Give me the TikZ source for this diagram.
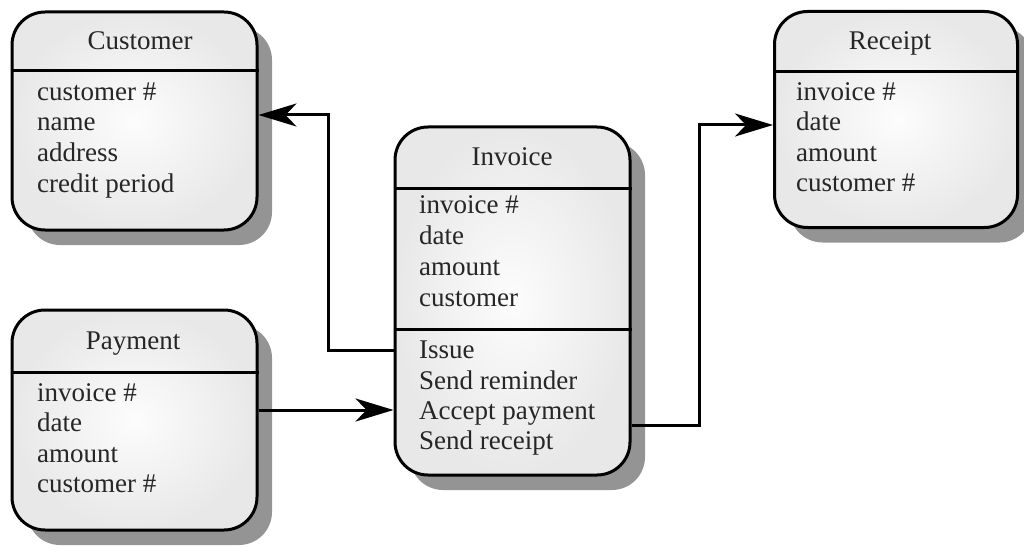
\documentclass[tikz,border=0pt]{standalone}
\usepackage{fontspec}
\setmainfont{Liberation Serif}
\usetikzlibrary{arrows.meta,shadows}
\begin{document}
\begin{tikzpicture}[x=1pt,y=-1pt,
  box/.style={draw=black, line width=3pt, rounded corners=33pt, inner sep=0pt,
    shading=radial, inner color=gray!2, outer color=gray!18,
    drop shadow={shadow xshift=15pt, shadow yshift=-15pt, fill=black!42, opacity=1}},
  divider/.style={line width=3pt},
  txt/.style={anchor=base west, inner sep=0pt, font=\fontsize{27}{30}\selectfont, text=black!85},
  ttl/.style={anchor=base, inner sep=0pt, font=\fontsize{27}{30}\selectfont, text=black!85},
  arr/.style={line width=3pt, line join=miter, -{Stealth[length=38pt,width=23pt,inset=11pt]}}]
\useasboundingbox (0,0) rectangle (1024,548);

% boxes
\node[box, minimum width=245pt, minimum height=218pt] (cust) at (134.5,121) {};
\node[box, minimum width=243pt, minimum height=216pt] (rec) at (896,119.5) {};
\node[box, minimum width=245pt, minimum height=220pt] (pay) at (134.5,420) {};
\node[box, minimum width=235pt, minimum height=348pt] (inv) at (512.5,301) {};

% dividers
\draw[divider] (cust.west |- 0,71) -- (cust.east |- 0,71);
\draw[divider] (rec.west |- 0,72) -- (rec.east |- 0,72);
\draw[divider] (pay.west |- 0,372) -- (pay.east |- 0,372);
\draw[divider] (inv.west |- 0,188) -- (inv.east |- 0,188);
\draw[divider] (inv.west |- 0,329) -- (inv.east |- 0,329);

% Customer
\node[ttl] (custT) at (140,50) {Customer};
\node[txt] (c1) at (37,101) {customer \#};
\node[txt] (c2) at (37,131) {name};
\node[txt] (c3) at (37,162) {address};
\node[txt] (c4) at (37,192) {credit period};

% Receipt
\node[ttl] (recT) at (890,50) {Receipt};
\node[txt] (r1) at (796,101) {invoice \#};
\node[txt] (r2) at (796,131) {date};
\node[txt] (r3) at (796,161) {amount};
\node[txt] (r4) at (796,191) {customer \#};

% Payment
\node[ttl] (payT) at (133,349) {Payment};
\node[txt] (p1) at (37,401) {invoice \#};
\node[txt] (p2) at (37,431) {date};
\node[txt] (p3) at (37,462) {amount};
\node[txt] (p4) at (37,492) {customer \#};

% Invoice
\node[ttl] (invT) at (512,165) {Invoice};
\node[txt] (i1) at (419,213) {invoice \#};
\node[txt] (i2) at (419,244) {date};
\node[txt] (i3) at (419,275) {amount};
\node[txt] (i4) at (419,306) {customer};
\node[txt] (o1) at (419,358) {Issue};
\node[txt] (o2) at (419,389) {Send reminder};
\node[txt] (o3) at (419,419) {Accept payment};
\node[txt] (o4) at (419,449) {Send receipt};

% connectors
\draw[arr] (inv.west |- 0,350) -- ++(-65,0) |- (cust.east |- 0,115);
\draw[arr] (pay.east |- 0,410) -- (inv.west |- 0,410);
\draw[arr] (inv.east |- 0,425) -- ++(68,0) |- (rec.west |- 0,125);
\end{tikzpicture}
\end{document}
